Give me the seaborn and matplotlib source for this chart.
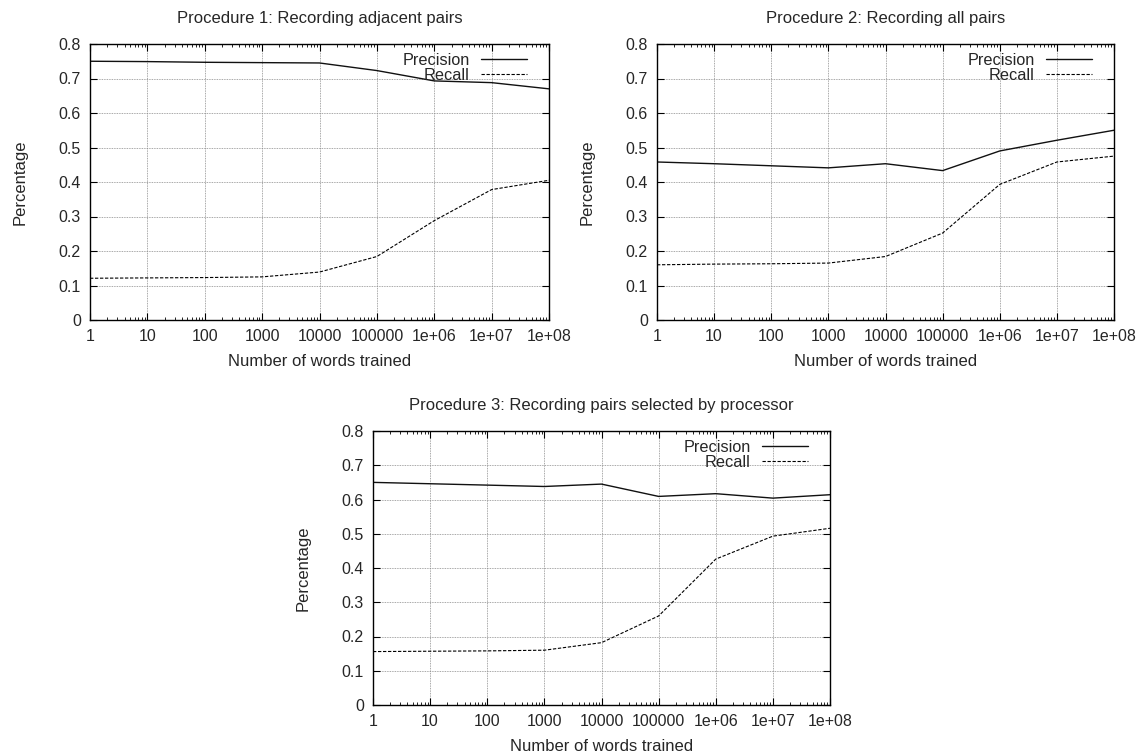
import numpy as np
import pandas as pd
import seaborn as sns
import matplotlib
matplotlib.use("Agg")
import matplotlib.pyplot as plt
from matplotlib.ticker import LogLocator, NullFormatter

# ---- data ----
words = [1, 10, 100, 1000, 10000, 100000, 1e6, 1e7, 1e8]
xtick_labels = ["1", "10", "100", "1000", "10000", "100000", "1e+06", "1e+07", "1e+08"]
yticks = [0, 0.1, 0.2, 0.3, 0.4, 0.5, 0.6, 0.7, 0.8]
ytick_labels = ["0", "0.1", "0.2", "0.3", "0.4", "0.5", "0.6", "0.7", "0.8"]

titles = ["Procedure 1: Recording adjacent pairs",
          "Procedure 2: Recording all pairs",
          "Procedure 3: Recording pairs selected by processor"]

p1_precision = [0.750, 0.749, 0.747, 0.746, 0.745, 0.723, 0.693, 0.688, 0.670]
p1_recall    = [0.121, 0.122, 0.123, 0.125, 0.139, 0.184, 0.288, 0.378, 0.405]
p2_precision = [0.458, 0.453, 0.447, 0.441, 0.453, 0.433, 0.490, 0.521, 0.550]
p2_recall    = [0.160, 0.162, 0.163, 0.165, 0.184, 0.252, 0.393, 0.458, 0.475]
p3_precision = [0.650, 0.646, 0.642, 0.638, 0.645, 0.609, 0.617, 0.604, 0.614]
p3_recall    = [0.156, 0.157, 0.158, 0.160, 0.182, 0.260, 0.426, 0.493, 0.516]

panels = [(p1_precision, p1_recall), (p2_precision, p2_recall), (p3_precision, p3_recall)]

sns.set_style("ticks")
plt.rcParams['font.family'] = ['Liberation Sans', 'DejaVu Sans']
plt.rcParams['font.size'] = 12

W, H = 1141, 754
fig = plt.figure(figsize=(W / 100, H / 100), dpi=100)

# axes boxes in pixels: left, top, right, bottom
boxes = [(90, 44, 549, 320), (657, 44, 1114, 320), (373, 431, 830, 705)]

for (prec, rec), title, (l, t, r, b) in zip(panels, titles, boxes):
    ax = fig.add_axes([l / W, (H - b) / H, (r - l) / W, (b - t) / H])
    df = pd.DataFrame({"words": words, "Precision": prec, "Recall": rec})
    sns.lineplot(data=df, x="words", y="Precision", ax=ax, color="#111111",
                 linewidth=1.0, label="Precision")
    sns.lineplot(data=df, x="words", y="Recall", ax=ax, color="black",
                 linewidth=0.8, linestyle=(0, (3, 1.5)), label="Recall")
    ax.set_xscale("log")
    ax.set_xlim(1, 1e8)
    ax.set_ylim(0, 0.8)
    ax.set_xticks(words)
    ax.set_xticklabels(xtick_labels)
    ax.xaxis.set_minor_locator(LogLocator(base=10, subs=np.arange(2, 10)))
    ax.xaxis.set_minor_formatter(NullFormatter())
    ax.set_yticks(yticks)
    ax.set_yticklabels(ytick_labels)
    ax.tick_params(which="both", direction="in", top=True, right=True,
                   labelsize=11.5, color="black")
    ax.tick_params(which="major", length=5, width=0.8, pad=6.5)
    ax.tick_params(which="minor", length=2.5, width=0.6)
    ax.grid(True, which="major", linestyle=(0, (1, 1)), color="#8a8a8a", linewidth=0.6)
    for s in ax.spines.values():
        s.set_visible(True)
        s.set_linewidth(1.0)
        s.set_color("black")
    ax.set_xlabel("Number of words trained", fontsize=12, labelpad=7)
    ax.set_ylabel("Percentage", fontsize=12, labelpad=22)
    ax.set_title(title, fontsize=12, pad=15)
    ax.legend(loc="upper right", frameon=False, markerfirst=False,
              handlelength=2.8, handletextpad=0.7, labelspacing=0.0,
              borderaxespad=0.15, fontsize=11.7, bbox_to_anchor=(0.971, 1.0))

fig.savefig("out.png", dpi=100)
